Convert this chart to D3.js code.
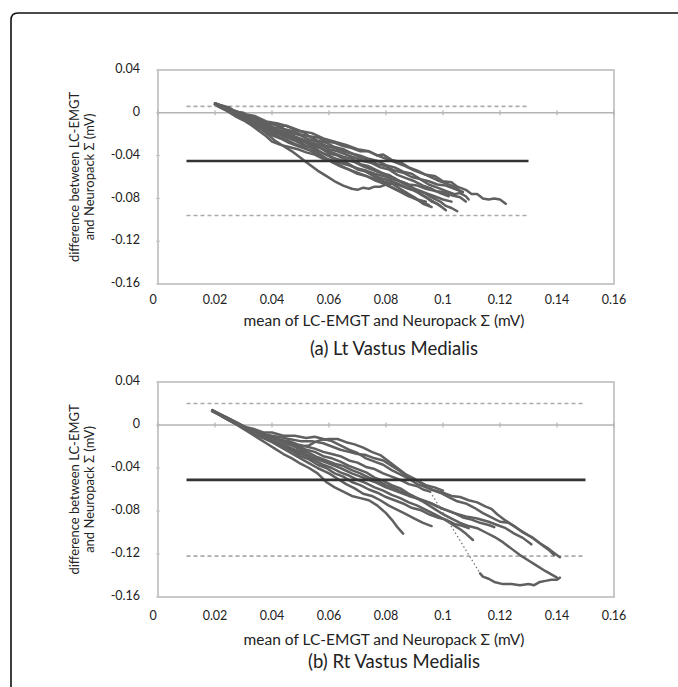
<!DOCTYPE html>
<html><head><meta charset="utf-8">
<script src="https://cdn.jsdelivr.net/npm/d3@7"></script>
<style>
body{margin:0;background:#fff}
svg{display:block}
text{font-family:Lato,"Open Sans",sans-serif;fill:#222}
</style>
</head><body>
<svg id="c" width="678" height="687"></svg>
<script>
// ---------- data ----------
const xTicks = [0, 0.02, 0.04, 0.06, 0.08, 0.1, 0.12, 0.14, 0.16];
const xTickLabels = ["0", "0.02", "0.04", "0.06", "0.08", "0.1", "0.12", "0.14", "0.16"];
const yTicks = [0.04, 0, -0.04, -0.08, -0.12, -0.16];
const yTickLabels = ["0.04", "0", "-0.04", "-0.08", "-0.12", "-0.16"];

const xTitle = "mean of LC-EMGT and Neuropack \u03A3 (mV)";
const yTitle1 = "difference between LC-EMGT";
const yTitle2 = "and Neuropack \u03A3 (mV)";
const panelTitles = ["(a) Lt Vastus Medialis", "(b) Rt Vastus Medialis"];

// Panel (a): mean difference, upper / lower limits of agreement, x-extent of those lines
const aMean = -0.045, aUpper = 0.006, aLower = -0.096;
const aLimitX = [0.01, 0.13];
// Panel (b)
const bMean = -0.051, bUpper = 0.020, bLower = -0.122;
const bLimitX = [0.01, 0.15];

// Panel (a) traces [mean, difference]
const aT1 = [[0.020,0.009],[0.022,0.007],[0.025,0.005],[0.027,0.001],[0.030,0.000],[0.032,-0.004],[0.035,-0.005],[0.037,-0.009],[0.040,-0.010],[0.043,-0.013],[0.045,-0.012],[0.048,-0.016],[0.051,-0.018],[0.053,-0.022],[0.056,-0.023],[0.059,-0.027],[0.062,-0.028],[0.065,-0.031],[0.068,-0.033],[0.071,-0.036],[0.074,-0.036],[0.077,-0.040],[0.079,-0.039],[0.082,-0.044],[0.085,-0.046],[0.088,-0.051],[0.091,-0.054],[0.094,-0.058],[0.097,-0.059],[0.100,-0.064],[0.103,-0.065],[0.105,-0.069],[0.108,-0.072],[0.110,-0.076],[0.112,-0.076],[0.114,-0.080],[0.116,-0.081],[0.118,-0.080],[0.120,-0.081],[0.122,-0.085]];
const aT2 = [[0.020,0.008],[0.023,0.005],[0.026,0.002],[0.029,-0.002],[0.032,-0.004],[0.035,-0.008],[0.038,-0.010],[0.041,-0.014],[0.044,-0.015],[0.047,-0.019],[0.050,-0.021],[0.053,-0.025],[0.056,-0.027],[0.059,-0.031],[0.062,-0.033],[0.065,-0.036],[0.068,-0.038],[0.071,-0.042],[0.074,-0.044],[0.077,-0.048],[0.080,-0.050],[0.083,-0.054],[0.086,-0.056],[0.089,-0.060],[0.092,-0.062],[0.095,-0.067],[0.098,-0.070],[0.101,-0.073],[0.104,-0.076],[0.106,-0.075],[0.108,-0.078],[0.109,-0.081]];
const aT3 = [[0.021,0.007],[0.024,0.004],[0.027,-0.001],[0.030,-0.004],[0.033,-0.008],[0.036,-0.011],[0.039,-0.014],[0.042,-0.018],[0.045,-0.020],[0.048,-0.024],[0.051,-0.027],[0.054,-0.031],[0.057,-0.033],[0.060,-0.038],[0.063,-0.040],[0.066,-0.044],[0.069,-0.046],[0.072,-0.050],[0.075,-0.053],[0.078,-0.056],[0.081,-0.058],[0.084,-0.063],[0.087,-0.066],[0.090,-0.071],[0.093,-0.074],[0.096,-0.079],[0.099,-0.083],[0.101,-0.087],[0.103,-0.089],[0.105,-0.092]];
const aT4 = [[0.020,0.008],[0.023,0.004],[0.026,0.000],[0.029,-0.003],[0.032,-0.007],[0.035,-0.009],[0.038,-0.013],[0.041,-0.015],[0.044,-0.019],[0.047,-0.021],[0.050,-0.026],[0.053,-0.028],[0.056,-0.031],[0.059,-0.035],[0.062,-0.038],[0.065,-0.041],[0.068,-0.043],[0.071,-0.048],[0.074,-0.050],[0.077,-0.054],[0.080,-0.058],[0.083,-0.061],[0.086,-0.066],[0.089,-0.070],[0.092,-0.076],[0.094,-0.079],[0.096,-0.083],[0.098,-0.085],[0.100,-0.089],[0.101,-0.091]];
const aT5 = [[0.021,0.006],[0.024,0.002],[0.027,-0.003],[0.030,-0.007],[0.033,-0.012],[0.035,-0.016],[0.038,-0.022],[0.040,-0.027],[0.043,-0.030],[0.046,-0.032],[0.049,-0.034],[0.052,-0.037],[0.055,-0.039],[0.058,-0.043],[0.061,-0.044],[0.064,-0.047],[0.067,-0.049],[0.070,-0.052],[0.073,-0.054],[0.076,-0.057],[0.079,-0.059],[0.082,-0.062],[0.085,-0.064],[0.088,-0.067],[0.091,-0.068],[0.094,-0.071],[0.097,-0.073],[0.100,-0.074],[0.103,-0.077],[0.106,-0.079],[0.108,-0.083]];
const aT6 = [[0.020,0.008],[0.023,0.004],[0.026,0.000],[0.029,-0.004],[0.032,-0.009],[0.035,-0.013],[0.038,-0.019],[0.041,-0.026],[0.044,-0.031],[0.047,-0.036],[0.050,-0.042],[0.053,-0.048],[0.056,-0.054],[0.059,-0.059],[0.062,-0.064],[0.065,-0.068],[0.068,-0.071],[0.070,-0.072],[0.072,-0.070],[0.074,-0.071],[0.076,-0.069],[0.078,-0.069],[0.080,-0.067],[0.082,-0.066],[0.085,-0.068],[0.088,-0.071],[0.091,-0.073],[0.094,-0.075],[0.097,-0.078],[0.100,-0.081],[0.103,-0.083]];
const aT7 = [[0.020,0.009],[0.023,0.006],[0.026,0.002],[0.029,0.000],[0.032,-0.004],[0.035,-0.006],[0.038,-0.010],[0.041,-0.011],[0.044,-0.015],[0.047,-0.017],[0.050,-0.020],[0.053,-0.022],[0.056,-0.026],[0.059,-0.028],[0.062,-0.032],[0.065,-0.034],[0.068,-0.038],[0.071,-0.040],[0.074,-0.043],[0.077,-0.045],[0.080,-0.049],[0.083,-0.051],[0.086,-0.055],[0.089,-0.057],[0.092,-0.062],[0.095,-0.064],[0.098,-0.067],[0.101,-0.068],[0.104,-0.071],[0.107,-0.074]];
const aT8 = [[0.021,0.008],[0.024,0.003],[0.027,-0.001],[0.030,-0.006],[0.033,-0.009],[0.036,-0.013],[0.039,-0.016],[0.042,-0.020],[0.045,-0.023],[0.048,-0.026],[0.051,-0.030],[0.054,-0.033],[0.057,-0.037],[0.060,-0.040],[0.063,-0.044],[0.066,-0.047],[0.069,-0.051],[0.072,-0.054],[0.075,-0.057],[0.078,-0.061],[0.081,-0.063],[0.084,-0.066],[0.087,-0.070],[0.090,-0.073],[0.093,-0.077],[0.096,-0.082],[0.099,-0.087]];
const aT9 = [[0.020,0.008],[0.023,0.005],[0.026,0.001],[0.029,-0.002],[0.031,-0.006],[0.034,-0.008],[0.037,-0.011],[0.040,-0.017],[0.043,-0.020],[0.046,-0.022],[0.049,-0.026],[0.052,-0.031],[0.055,-0.033],[0.058,-0.038],[0.061,-0.042],[0.064,-0.044],[0.067,-0.048],[0.070,-0.053],[0.073,-0.055],[0.076,-0.060],[0.079,-0.064],[0.082,-0.066],[0.085,-0.071],[0.088,-0.076],[0.090,-0.079],[0.093,-0.085],[0.096,-0.088]];
const aT10 = [[0.022,0.007],[0.026,0.003],[0.030,-0.001],[0.034,-0.003],[0.038,-0.008],[0.042,-0.010],[0.046,-0.013],[0.050,-0.017],[0.054,-0.019],[0.058,-0.024],[0.062,-0.027],[0.066,-0.030],[0.070,-0.034],[0.074,-0.036],[0.078,-0.041],[0.082,-0.045],[0.086,-0.049],[0.090,-0.054],[0.094,-0.058],[0.098,-0.063],[0.101,-0.066],[0.104,-0.069],[0.106,-0.073]];
const aT11 = [[0.021,0.007],[0.024,0.004],[0.027,0.000],[0.030,-0.005],[0.033,-0.007],[0.036,-0.012],[0.039,-0.017],[0.042,-0.022],[0.045,-0.025],[0.048,-0.029],[0.051,-0.032],[0.054,-0.036],[0.057,-0.040],[0.060,-0.044],[0.063,-0.048],[0.066,-0.052],[0.069,-0.055],[0.072,-0.058],[0.075,-0.061],[0.078,-0.064],[0.081,-0.068],[0.084,-0.072],[0.087,-0.075],[0.090,-0.080],[0.093,-0.084],[0.095,-0.086]];
const aT12 = [[0.021,0.008],[0.024,0.004],[0.027,0.001],[0.030,-0.003],[0.033,-0.005],[0.036,-0.010],[0.039,-0.012],[0.042,-0.016],[0.045,-0.018],[0.048,-0.022],[0.051,-0.025],[0.054,-0.028],[0.057,-0.030],[0.060,-0.034],[0.063,-0.036],[0.066,-0.039],[0.069,-0.042],[0.072,-0.045],[0.075,-0.047],[0.078,-0.051],[0.081,-0.053],[0.084,-0.058],[0.087,-0.061],[0.090,-0.064],[0.093,-0.068],[0.096,-0.071],[0.099,-0.075],[0.102,-0.078]];
const aT13 = [[0.022,0.006],[0.025,0.002],[0.028,-0.004],[0.031,-0.008],[0.034,-0.013],[0.037,-0.016],[0.040,-0.021],[0.043,-0.024],[0.046,-0.028],[0.049,-0.031],[0.052,-0.034],[0.055,-0.036],[0.058,-0.041],[0.061,-0.046],[0.064,-0.050],[0.067,-0.053],[0.070,-0.057],[0.073,-0.059],[0.076,-0.063],[0.079,-0.066],[0.082,-0.070],[0.085,-0.074],[0.088,-0.078],[0.091,-0.081],[0.094,-0.083]];

// Panel (b) traces
const bT1 = [[0.019,0.014],[0.022,0.010],[0.025,0.006],[0.028,0.001],[0.031,-0.002],[0.034,-0.004],[0.037,-0.007],[0.040,-0.007],[0.044,-0.010],[0.048,-0.010],[0.052,-0.012],[0.055,-0.011],[0.058,-0.013],[0.061,-0.015],[0.064,-0.019],[0.067,-0.023],[0.070,-0.026],[0.073,-0.031],[0.076,-0.034],[0.079,-0.037],[0.082,-0.042],[0.085,-0.046],[0.088,-0.050],[0.091,-0.055],[0.094,-0.058],[0.097,-0.061],[0.100,-0.063],[0.103,-0.066],[0.106,-0.067],[0.109,-0.070],[0.112,-0.072],[0.115,-0.076],[0.117,-0.078],[0.119,-0.083],[0.122,-0.089],[0.125,-0.094],[0.128,-0.100],[0.131,-0.104],[0.134,-0.110],[0.137,-0.115],[0.139,-0.119],[0.141,-0.123]];
const bT2 = [[0.019,0.013],[0.022,0.009],[0.025,0.005],[0.028,0.001],[0.031,-0.003],[0.034,-0.006],[0.037,-0.009],[0.040,-0.012],[0.043,-0.014],[0.046,-0.018],[0.049,-0.020],[0.052,-0.023],[0.055,-0.025],[0.058,-0.029],[0.061,-0.031],[0.064,-0.034],[0.067,-0.038],[0.070,-0.041],[0.073,-0.044],[0.076,-0.049],[0.079,-0.052],[0.082,-0.056],[0.085,-0.059],[0.088,-0.064],[0.091,-0.068],[0.094,-0.073],[0.097,-0.078],[0.100,-0.083],[0.103,-0.087],[0.106,-0.091],[0.109,-0.094],[0.112,-0.096],[0.115,-0.100],[0.118,-0.104],[0.121,-0.109],[0.124,-0.115],[0.127,-0.121],[0.130,-0.126],[0.133,-0.131],[0.136,-0.136],[0.138,-0.139],[0.140,-0.142]];
const bT3 = [[0.019,0.013],[0.022,0.009],[0.025,0.005],[0.028,0.001],[0.031,-0.003],[0.034,-0.005],[0.037,-0.009],[0.040,-0.011],[0.043,-0.014],[0.046,-0.015],[0.049,-0.018],[0.052,-0.020],[0.055,-0.022],[0.058,-0.025],[0.061,-0.027],[0.064,-0.029],[0.067,-0.033],[0.070,-0.035],[0.073,-0.039],[0.076,-0.041],[0.079,-0.045],[0.082,-0.048],[0.085,-0.051],[0.088,-0.055],[0.091,-0.057],[0.093,-0.060],[0.0955,-0.062]];
const bT3gap = [[0.0955,-0.062],[0.113,-0.138]];
const bT3tail = [[0.113,-0.138],[0.114,-0.141],[0.116,-0.143],[0.118,-0.146],[0.121,-0.148],[0.124,-0.148],[0.127,-0.149],[0.130,-0.148],[0.132,-0.149],[0.134,-0.146],[0.136,-0.145],[0.138,-0.144],[0.140,-0.144],[0.141,-0.142]];
const bT4 = [[0.019,0.013],[0.022,0.009],[0.025,0.004],[0.028,0.000],[0.031,-0.004],[0.034,-0.008],[0.037,-0.012],[0.040,-0.015],[0.043,-0.019],[0.046,-0.022],[0.049,-0.026],[0.052,-0.029],[0.055,-0.033],[0.058,-0.037],[0.061,-0.040],[0.064,-0.044],[0.067,-0.047],[0.070,-0.051],[0.073,-0.054],[0.076,-0.058],[0.079,-0.061],[0.082,-0.065],[0.085,-0.068],[0.088,-0.072],[0.091,-0.075],[0.094,-0.079],[0.097,-0.083],[0.100,-0.087],[0.103,-0.092],[0.106,-0.097],[0.108,-0.101],[0.1105,-0.107]];
const bT5 = [[0.020,0.012],[0.023,0.007],[0.026,0.003],[0.029,-0.002],[0.032,-0.007],[0.035,-0.012],[0.038,-0.017],[0.041,-0.022],[0.044,-0.027],[0.047,-0.031],[0.050,-0.036],[0.053,-0.040],[0.056,-0.045],[0.059,-0.053],[0.062,-0.058],[0.065,-0.062],[0.068,-0.066],[0.071,-0.068],[0.074,-0.070],[0.077,-0.075],[0.080,-0.082],[0.082,-0.088],[0.084,-0.095],[0.086,-0.101]];
const bT6 = [[0.020,0.012],[0.023,0.008],[0.026,0.004],[0.029,0.000],[0.032,-0.004],[0.035,-0.007],[0.038,-0.010],[0.041,-0.012],[0.044,-0.015],[0.047,-0.017],[0.050,-0.020],[0.053,-0.019],[0.055,-0.016],[0.057,-0.014],[0.060,-0.013],[0.063,-0.013],[0.066,-0.016],[0.069,-0.018],[0.072,-0.021],[0.075,-0.025],[0.078,-0.028],[0.081,-0.034],[0.084,-0.040],[0.087,-0.046],[0.090,-0.050],[0.093,-0.055],[0.096,-0.060],[0.099,-0.063],[0.102,-0.067],[0.105,-0.071],[0.108,-0.073],[0.111,-0.077],[0.114,-0.082],[0.117,-0.086],[0.120,-0.090],[0.123,-0.091],[0.126,-0.096],[0.129,-0.101],[0.132,-0.106],[0.135,-0.112],[0.137,-0.116],[0.139,-0.121]];
const bT7 = [[0.020,0.012],[0.023,0.008],[0.026,0.003],[0.029,-0.001],[0.032,-0.005],[0.035,-0.008],[0.038,-0.013],[0.041,-0.016],[0.044,-0.021],[0.047,-0.024],[0.050,-0.029],[0.053,-0.032],[0.056,-0.037],[0.059,-0.040],[0.062,-0.045],[0.065,-0.048],[0.068,-0.053],[0.071,-0.056],[0.074,-0.060],[0.077,-0.063],[0.080,-0.067],[0.083,-0.070],[0.086,-0.073],[0.089,-0.077],[0.092,-0.079],[0.095,-0.083],[0.098,-0.086],[0.101,-0.088],[0.104,-0.092],[0.107,-0.094],[0.109,-0.096]];
const bT8 = [[0.020,0.012],[0.023,0.008],[0.026,0.004],[0.029,0.000],[0.032,-0.005],[0.035,-0.007],[0.038,-0.011],[0.041,-0.013],[0.044,-0.016],[0.047,-0.019],[0.050,-0.023],[0.053,-0.026],[0.056,-0.030],[0.059,-0.033],[0.062,-0.036],[0.065,-0.038],[0.068,-0.042],[0.071,-0.045],[0.074,-0.049],[0.077,-0.052],[0.080,-0.056],[0.083,-0.059],[0.086,-0.063],[0.089,-0.066],[0.092,-0.070],[0.095,-0.072],[0.098,-0.076],[0.101,-0.079],[0.104,-0.082],[0.107,-0.086],[0.110,-0.088],[0.113,-0.091],[0.116,-0.093],[0.118,-0.095]];
const bT9 = [[0.030,-0.003],[0.034,-0.006],[0.038,-0.009],[0.042,-0.011],[0.046,-0.013],[0.050,-0.015],[0.054,-0.015],[0.058,-0.017],[0.061,-0.020],[0.064,-0.023],[0.067,-0.025],[0.070,-0.027],[0.073,-0.028],[0.076,-0.031],[0.079,-0.033],[0.082,-0.038],[0.085,-0.043],[0.088,-0.049],[0.091,-0.052],[0.094,-0.056],[0.097,-0.058],[0.100,-0.061]];
const bT10 = [[0.020,0.012],[0.024,0.007],[0.028,0.002],[0.032,-0.004],[0.036,-0.009],[0.040,-0.014],[0.044,-0.018],[0.048,-0.023],[0.052,-0.027],[0.056,-0.032],[0.060,-0.036],[0.064,-0.040],[0.068,-0.045],[0.072,-0.049],[0.076,-0.053],[0.080,-0.058],[0.084,-0.062],[0.088,-0.066],[0.092,-0.069],[0.096,-0.073],[0.100,-0.078],[0.104,-0.082],[0.108,-0.085],[0.112,-0.087],[0.116,-0.090],[0.119,-0.093],[0.122,-0.096],[0.125,-0.101],[0.128,-0.105],[0.131,-0.111]];
const bT11 = [[0.020,0.012],[0.024,0.006],[0.028,0.000],[0.032,-0.006],[0.036,-0.011],[0.040,-0.016],[0.044,-0.022],[0.048,-0.028],[0.052,-0.034],[0.056,-0.040],[0.060,-0.045],[0.063,-0.050],[0.066,-0.055],[0.069,-0.059],[0.072,-0.064],[0.075,-0.066],[0.078,-0.070],[0.081,-0.075],[0.084,-0.079],[0.087,-0.083],[0.090,-0.087],[0.093,-0.091],[0.096,-0.094]];

const aTraces = [aT1, aT2, aT3, aT4, aT5, aT6, aT7, aT8, aT9, aT10, aT11, aT12, aT13];
const bTraces = [bT1, bT2, bT3, bT3tail, bT4, bT5, bT6, bT7, bT8, bT9, bT10, bT11];
const bGaps = [bT3gap];

// ---------- drawing ----------
const svg = d3.select("#c");

// outer frame with rounded top-left corner
svg.append("path")
  .attr("d", "M11,700 L11,20 Q11,13 18,13 L690,13")
  .attr("fill", "none").attr("stroke", "#111").attr("stroke-width", 1.6);

const panels = [
  {x0:158, x1:614, y0:70,  y1:284, mean:aMean, up:aUpper, lo:aLower, lx:aLimitX, traces:aTraces, gaps:[], title:panelTitles[0], tickDy:17, t1:322, t2:350},
  {x0:158, x1:614, y0:382, y1:597, mean:bMean, up:bUpper, lo:bLower, lx:bLimitX, traces:bTraces, gaps:bGaps, title:panelTitles[1], tickDy:20, t1:641, t2:663}
];

panels.forEach(p => {
  const x = d3.scaleLinear().domain([0, 0.16]).range([p.x0, p.x1]);
  const y = d3.scaleLinear().domain([-0.16, 0.04]).range([p.y1, p.y0]);
  const g = svg.append("g");

  g.append("rect").attr("x", p.x0).attr("y", p.y0)
    .attr("width", p.x1 - p.x0).attr("height", p.y1 - p.y0)
    .attr("fill", "none").attr("stroke", "#c4c4c4").attr("stroke-width", 1.8);

  yTicks.forEach((v, i) => {
    g.append("line").attr("x1", x(0) - 2).attr("x2", x(0) + 2)
      .attr("y1", y(v)).attr("y2", y(v)).attr("stroke", "#c4c4c4").attr("stroke-width", 1);
    g.append("text").attr("x", p.x0 - 18).attr("y", y(v))
      .attr("text-anchor", "end").attr("dominant-baseline", "middle")
      .style("font-size", "12.5px").text(yTickLabels[i]);
  });

  g.append("line").attr("x1", p.x0).attr("x2", p.x1).attr("y1", y(0)).attr("y2", y(0))
    .attr("stroke", "#b4b4b4").attr("stroke-width", 1.5);
  xTicks.forEach((v, i) => {
    g.append("line").attr("x1", x(v)).attr("x2", x(v)).attr("y1", y(0) - 2.5).attr("y2", y(0) + 2.5)
      .attr("stroke", "#b4b4b4").attr("stroke-width", 1.2);
    g.append("text").attr("x", x(v) + (v === 0 ? -5 : 0)).attr("y", p.y1 + p.tickDy)
      .attr("text-anchor", "middle").attr("dominant-baseline", "middle")
      .style("font-size", "12.5px").text(xTickLabels[i]);
  });

  [p.up, p.lo].forEach(v => {
    g.append("line").attr("x1", x(p.lx[0])).attr("x2", x(p.lx[1]))
      .attr("y1", y(v)).attr("y2", y(v))
      .attr("stroke", "#ababab").attr("stroke-width", 1.6).attr("stroke-dasharray", "4,3");
  });

  const line = d3.line().x(d => x(d[0])).y(d => y(d[1])).curve(d3.curveLinear);
  p.traces.forEach(t => {
    g.append("path").attr("d", line(t)).attr("fill", "none")
      .attr("stroke", "#606060").attr("stroke-width", 2.5)
      .attr("stroke-linejoin", "round").attr("stroke-linecap", "round");
  });
  p.gaps.forEach(t => {
    g.append("path").attr("d", line(t)).attr("fill", "none")
      .attr("stroke", "#777").attr("stroke-width", 1.3).attr("stroke-dasharray", "1.5,2.5");
  });

  g.append("line").attr("x1", x(p.lx[0])).attr("x2", x(p.lx[1]))
    .attr("y1", y(p.mean)).attr("y2", y(p.mean))
    .attr("stroke", "#333").attr("stroke-width", 2.6);

  const cy = (p.y0 + p.y1) / 2;
  g.append("text").attr("transform", `translate(76,${cy}) rotate(-90)`)
    .attr("text-anchor", "middle").attr("dominant-baseline", "middle")
    .style("font-size", "13px").text(yTitle1);
  g.append("text").attr("transform", `translate(91,${cy}) rotate(-90)`)
    .attr("text-anchor", "middle").attr("dominant-baseline", "middle")
    .style("font-size", "13px").text(yTitle2);

  g.append("text").attr("x", 384).attr("y", p.t1)
    .attr("text-anchor", "middle").attr("dominant-baseline", "middle")
    .style("font-size", "15.5px").text(xTitle);
  g.append("text").attr("x", 394).attr("y", p.t2)
    .attr("text-anchor", "middle").attr("dominant-baseline", "middle")
    .style("font-size", "18.5px").text(p.title);
});
</script>
</body></html>
